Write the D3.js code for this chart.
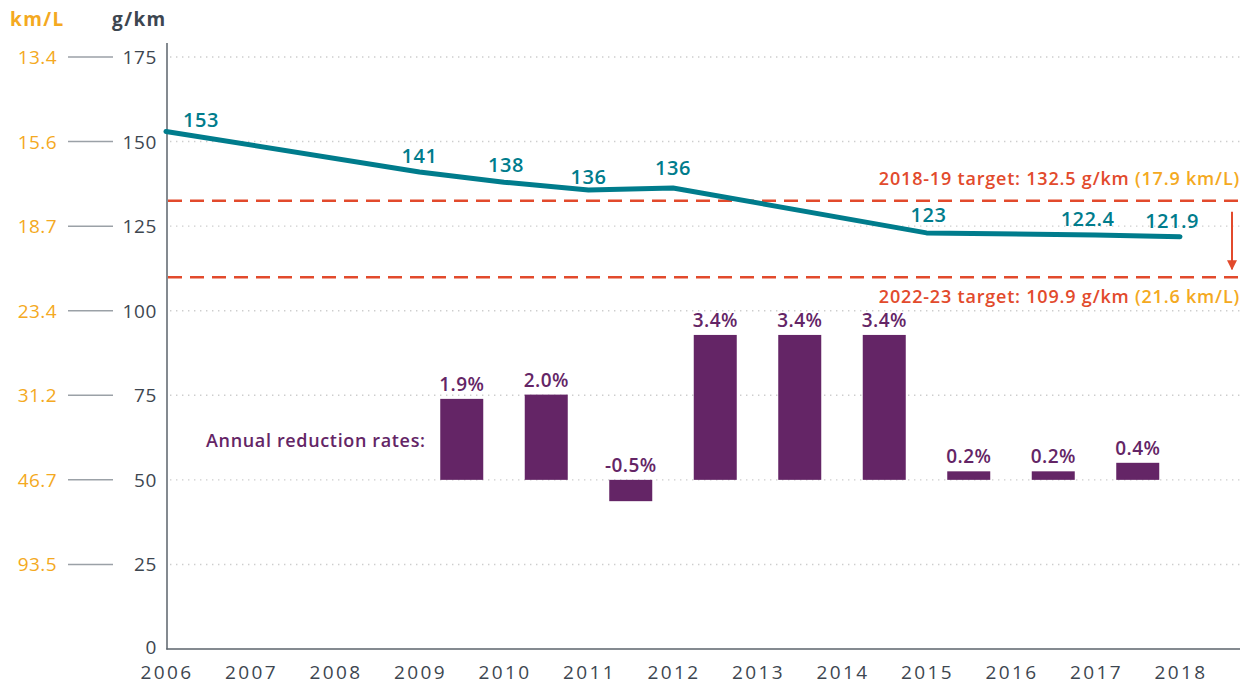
<!DOCTYPE html>
<html>
<head>
<meta charset="utf-8">
<script src="https://cdn.jsdelivr.net/npm/d3@7"></script>
<style>
  html,body{margin:0;padding:0;background:#fff;}
  svg{display:block;font-family:"Open Sans",sans-serif;}
</style>
</head>
<body>
<div id="chart"></div>
<script>
// ---- data ----
var years = [2006,2007,2008,2009,2010,2011,2012,2013,2014,2015,2016,2017,2018];
var gTicks = [0,25,50,75,100,125,150,175];
var kmlTicks = ["13.4","15.6","18.7","23.4","31.2","46.7","93.5"];   // for 175..25
var lineYears = [2006,2009,2010,2011,2012,2015,2017,2018];
var lineValues = [153,141,138,135.7,136.3,123,122.4,121.9];
var lineLabels = ["153","141","138","136","136","123","122.4","121.9"];
var barYears = [2009.5,2010.5,2011.5,2012.5,2013.5,2014.5,2015.5,2016.5,2017.5];
var barRates = [1.9,2.0,-0.5,3.4,3.4,3.4,0.2,0.2,0.4];
var targetNames = ["2018-19 target: ","2022-23 target: "];
var targetGkm = [132.5,109.9];
var targetKmL = ["17.9","21.6"];

// label nudges (layout only)
var lineLabelDx = [35,0,2,0,0,2,-8,-8];
var lineLabelDy = [-4,-9,-10,-6,-13,-11,-9,-9];

var W=1241,H=684;
var C={teal:"#007c8c",purple:"#642566",red:"#e24a2c",orange:"#f4a921",dark:"#3d4650",axis:"#5b636b",grid:"#cdcdcd",tick:"#9ba1a7"};

var svg=d3.select("#chart").append("svg").attr("width",W).attr("height",H);

var x=d3.scaleLinear().domain([2006,2018]).range([166,1180]);
var y=d3.scaleLinear().domain([0,175]).range([649,57]);
// bars hang off the 50 g/km gridline, about 12.6 g/km-units per 1 %
var barBase=50;
var barScale=d3.scaleLinear().domain([0,1]).range([0,12.6]);

// grid lines (dotted)
svg.append("g").selectAll("line").data(gTicks.filter(function(d){return d>0;})).enter().append("line")
  .attr("x1",170).attr("x2",1240).attr("y1",function(d){return y(d);}).attr("y2",function(d){return y(d);})
  .attr("stroke",C.grid).attr("stroke-width",1.4).attr("stroke-dasharray","1.4,4.6");

// axes lines
svg.append("line").attr("x1",167).attr("x2",167).attr("y1",43).attr("y2",649.5).attr("stroke",C.axis).attr("stroke-width",1.5);
svg.append("line").attr("x1",166.3).attr("x2",1240).attr("y1",649).attr("y2",649).attr("stroke",C.axis).attr("stroke-width",1.5);

// headers
svg.append("text").attr("x",10).attr("y",26).attr("fill",C.orange).style("font-weight",700).style("font-size","19px")
  .style("letter-spacing","1.4px").text("km/L");
svg.append("text").attr("x",112).attr("y",26).attr("fill",C.dark).style("font-weight",700).style("font-size","19px")
  .style("letter-spacing","1.4px").text("g/km");

// g/km tick labels
svg.append("g").selectAll("text").data(gTicks).enter().append("text")
  .attr("x",157).attr("y",function(d){return d===0?y(d)+5:y(d)+7;}).attr("text-anchor","end")
  .attr("fill",C.dark).style("font-size","19px").style("letter-spacing","0.6px").text(function(d){return d;});

// km/L labels + connector ticks
var kmlVals=gTicks.slice(1).reverse(); // 175..25
svg.append("g").selectAll("text").data(kmlVals).enter().append("text")
  .attr("x",57).attr("y",function(d){return y(d)+7;}).attr("text-anchor","end")
  .attr("fill",C.orange).style("font-size","19px").style("letter-spacing","0.4px").text(function(d,i){return kmlTicks[i];});
svg.append("g").selectAll("line").data(kmlVals).enter().append("line")
  .attr("x1",68).attr("x2",113).attr("y1",function(d){return y(d);}).attr("y2",function(d){return y(d);})
  .attr("stroke",C.tick).attr("stroke-width",1.5);

// x labels
svg.append("g").selectAll("text").data(years).enter().append("text")
  .attr("x",function(d){return x(d)+1;}).attr("y",679).attr("text-anchor","middle")
  .attr("fill",C.dark).style("font-size","19px").style("letter-spacing","2.4px").text(function(d){return d;});

// target lines
svg.append("g").selectAll("line").data(targetGkm).enter().append("line")
  .attr("x1",168).attr("x2",1241).attr("y1",function(d){return y(d);}).attr("y2",function(d){return y(d);})
  .attr("stroke",C.red).attr("stroke-width",2.5).attr("stroke-dasharray","14,8");

// target labels
var tl=svg.append("g").selectAll("text").data(targetGkm).enter().append("text")
  .attr("x",1240).attr("text-anchor","end")
  .attr("y",function(d,i){return i===0?y(d)-16:y(d)+26;})
  .style("font-size","18px").style("font-weight",600).style("letter-spacing","0.8px");
tl.append("tspan").attr("fill",C.red).text(function(d,i){return targetNames[i]+d+" g/km ";});
tl.append("tspan").attr("fill",C.orange).text(function(d,i){return "("+targetKmL[i]+" km/L)";});

// arrow between targets
svg.append("defs").append("marker").attr("id","ah").attr("viewBox","0 0 10 10").attr("refX",9).attr("refY",5)
  .attr("markerWidth",5).attr("markerHeight",5).attr("orient","auto")
  .append("path").attr("d","M0,0 L10,5 L0,10 z").attr("fill",C.red);
svg.append("line").attr("x1",1232).attr("x2",1232).attr("y1",y(targetGkm[0])+11).attr("y2",y(targetGkm[1])-8)
  .attr("stroke",C.red).attr("stroke-width",2).attr("marker-end","url(#ah)");

// line
var pts=lineYears.map(function(d,i){return [d,lineValues[i]];});
svg.append("path").datum(pts)
  .attr("d",d3.line().x(function(d){return x(d[0]);}).y(function(d){return y(d[1]);}))
  .attr("fill","none").attr("stroke",C.teal).attr("stroke-width",5).attr("stroke-linecap","round").attr("stroke-linejoin","round");
svg.append("g").selectAll("text").data(pts).enter().append("text")
  .attr("x",function(d,i){return x(d[0])+lineLabelDx[i];})
  .attr("y",function(d,i){return y(d[1])+lineLabelDy[i];})
  .attr("text-anchor","middle").attr("fill",C.teal).style("font-size","20px").style("font-weight",600)
  .style("letter-spacing","0.5px")
  .text(function(d,i){return lineLabels[i];});

// bars
var bw=43;
var bars=svg.append("g");
bars.selectAll("rect").data(barRates).enter().append("rect")
  .attr("x",function(d,i){return x(barYears[i])-bw/2;}).attr("width",bw)
  .attr("y",function(d){return y(barBase+Math.max(0,barScale(d)));})
  .attr("height",function(d){return Math.abs(y(barBase)-y(barBase+barScale(d)));})
  .attr("fill",C.purple);
bars.selectAll("text").data(barRates).enter().append("text")
  .attr("x",function(d,i){return x(barYears[i]);})
  .attr("y",function(d){return y(barBase+Math.max(0,barScale(d)))-8;})
  .attr("text-anchor","middle").attr("fill",C.purple).style("font-size","19px").style("font-weight",600)
  .style("letter-spacing","0.4px")
  .text(function(d){return d.toFixed(1)+"%";});

svg.append("text").attr("x",206).attr("y",447).attr("fill",C.purple).style("font-size","18px").style("font-weight",600)
  .style("letter-spacing","0.65px").text("Annual reduction rates:");
</script>
</body>
</html>
